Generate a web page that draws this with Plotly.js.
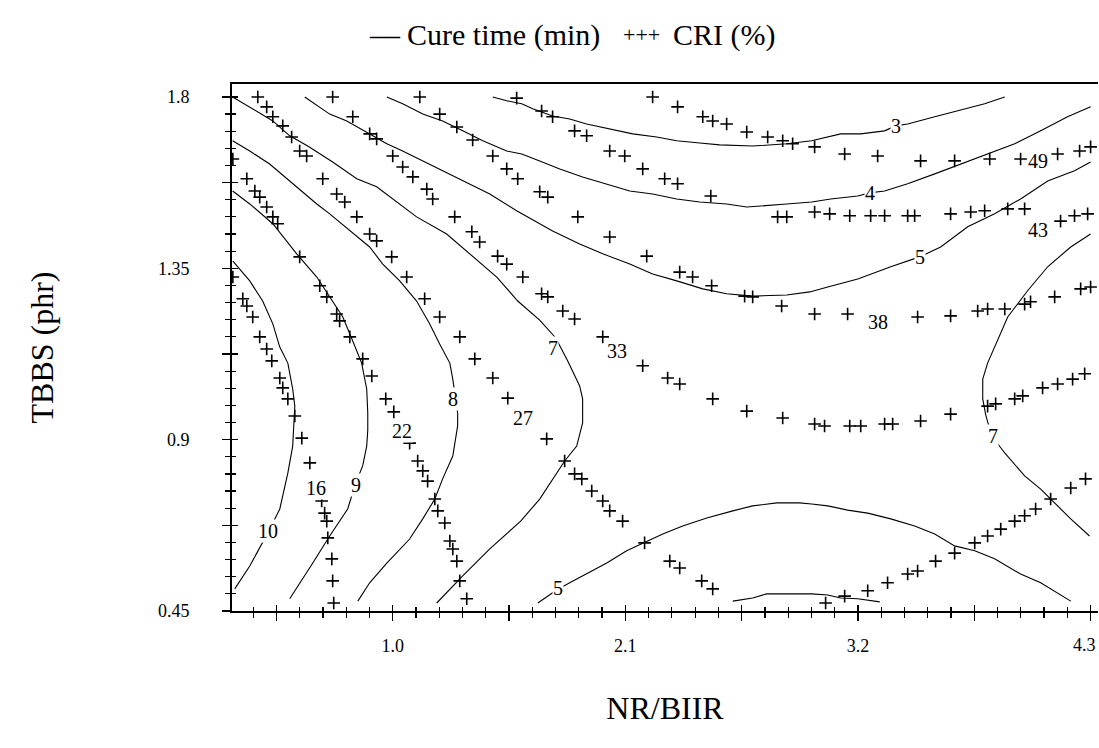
<!DOCTYPE html>
<html>
<head>
<meta charset="utf-8">
<script src="https://cdn.plot.ly/plotly-3.0.1.min.js"></script>
<style>
html,body{margin:0;padding:0;background:#fff;overflow:hidden;}
#chart{width:1099px;height:748px;}
</style>
</head>
<body>
<div id="chart"></div>
<script>
// ---------- Cure time (min) contour lines ----------
const cure3X = [1.473,1.539,1.610,1.662,1.756,1.837,1.917,2.026,2.135,2.248,2.343,2.452,2.546,2.702,2.863,2.981,3.057,3.118,3.213,3.326,3.378,3.435,3.563,3.671,3.799,3.894];
const cure3Y = [1.800,1.790,1.782,1.769,1.750,1.742,1.729,1.716,1.703,1.695,1.685,1.679,1.674,1.671,1.677,1.685,1.695,1.703,1.703,1.711,1.724,1.729,1.748,1.763,1.782,1.800];

const cure4X = [0.972,1.047,1.142,1.236,1.331,1.426,1.539,1.610,1.695,1.790,1.898,2.012,2.121,2.229,2.343,2.452,2.579,2.674,2.768,2.863,2.981,3.071,3.199,3.255,3.326,3.435,3.563,3.686,3.813,3.941,4.064,4.191,4.300];
const cure4Y = [1.800,1.782,1.755,1.737,1.711,1.685,1.658,1.650,1.632,1.611,1.590,1.572,1.553,1.545,1.532,1.524,1.519,1.511,1.514,1.519,1.524,1.532,1.540,1.548,1.553,1.572,1.598,1.624,1.650,1.677,1.711,1.748,1.774];

const cure5UpperX = [0.584,0.702,0.783,0.891,0.972,1.047,1.142,1.236,1.331,1.459,1.586,1.695,1.756,1.884,1.993,2.121,2.229,2.343,2.466,2.579,2.702,2.863,2.972,3.057,3.199,3.355,3.492,3.591,3.719,3.846,3.969,4.097,4.224,4.300];
const cure5UpperY = [1.800,1.755,1.737,1.703,1.677,1.658,1.632,1.606,1.579,1.545,1.501,1.467,1.448,1.414,1.388,1.361,1.335,1.317,1.296,1.283,1.277,1.280,1.288,1.301,1.322,1.354,1.380,1.406,1.459,1.493,1.532,1.579,1.606,1.629];

const cure5LowerX = [1.686,1.775,1.837,1.917,2.012,2.106,2.191,2.277,2.371,2.485,2.608,2.702,2.816,2.924,2.981,3.057,3.151,3.246,3.355,3.468,3.563,3.657,3.752,3.846,3.969,4.064,4.206];
const cure5LowerY = [0.471,0.505,0.524,0.547,0.576,0.608,0.629,0.652,0.673,0.694,0.713,0.726,0.734,0.734,0.731,0.726,0.715,0.707,0.692,0.673,0.652,0.621,0.608,0.587,0.547,0.524,0.476];

const cure4LowerX = [2.608,2.702,2.768,2.863,2.981,3.057,3.118,3.199,3.303];
const cure4LowerY = [0.476,0.484,0.495,0.495,0.495,0.492,0.484,0.482,0.474];

const cure7LeftX = [0.243,0.324,0.433,0.513,0.598,0.716,0.830,0.924,1.047,1.113,1.255,1.364,1.492,1.591,1.695,1.771,1.827,1.884,1.898,1.898,1.870,1.813,1.756,1.695,1.605,1.459,1.331,1.208];
const cure7LeftY = [1.800,1.774,1.737,1.698,1.671,1.629,1.585,1.564,1.511,1.485,1.440,1.388,1.327,1.264,1.214,1.167,1.107,1.041,1.007,0.944,0.883,0.844,0.797,0.744,0.686,0.613,0.542,0.471];

const cure7RightX = [4.300,4.206,4.097,4.002,3.908,3.846,3.813,3.790,3.790,3.804,3.832,3.894,3.988,4.064,4.111,4.206,4.295];
const cure7RightY = [1.440,1.406,1.354,1.291,1.222,1.143,1.101,1.059,1.007,0.965,0.910,0.865,0.805,0.770,0.744,0.692,0.647];

const cure8X = [0.243,0.324,0.418,0.527,0.641,0.702,0.797,0.891,0.953,1.033,1.113,1.175,1.222,1.270,1.284,1.298,1.307,1.307,1.284,1.236,1.199,1.142,1.080,0.972,0.891,0.835];
const cure8Y = [1.685,1.658,1.624,1.572,1.519,1.493,1.448,1.406,1.361,1.317,1.264,1.204,1.151,1.101,1.059,1.007,0.970,0.936,0.857,0.797,0.744,0.692,0.639,0.576,0.524,0.476];

const cure9X = [0.243,0.324,0.433,0.546,0.641,0.702,0.764,0.811,0.853,0.877,0.882,0.882,0.877,0.858,0.825,0.787,0.702,0.622,0.513];
const cure9Y = [1.553,1.519,1.467,1.388,1.327,1.275,1.222,1.159,1.101,1.033,0.970,0.925,0.883,0.831,0.786,0.718,0.647,0.576,0.482];

const cure10X = [0.244,0.324,0.385,0.433,0.466,0.504,0.527,0.537,0.532,0.527,0.504,0.466,0.414,0.385,0.324,0.253];
const cure10Y = [1.369,1.317,1.264,1.204,1.143,1.101,1.033,0.988,0.936,0.883,0.812,0.718,0.660,0.629,0.568,0.508];

// ---------- CRI (%) contour points ----------
const cri16X = [0.244,0.291,0.310,0.338,0.371,0.404,0.428,0.466,0.480,0.504,0.537,0.570,0.608,0.664,0.678,0.688,0.693,0.712,0.716,0.721];
const cri16Y = [1.327,1.270,1.251,1.222,1.170,1.138,1.107,1.062,1.036,1.007,0.962,0.904,0.839,0.739,0.707,0.686,0.642,0.587,0.529,0.471];

const cri22X = [0.244,0.310,0.348,0.371,0.404,0.433,0.456,0.560,0.655,0.688,0.735,0.749,0.797,0.858,0.901,0.967,1.005,1.080,1.118,1.142,1.165,1.199,1.213,1.246,1.270,1.284,1.303,1.317,1.350];
const cri22Y = [1.637,1.585,1.553,1.537,1.511,1.485,1.467,1.380,1.304,1.275,1.230,1.212,1.170,1.112,1.067,1.007,0.973,0.891,0.844,0.818,0.791,0.744,0.713,0.681,0.634,0.613,0.581,0.529,0.482];

const cri27X = [0.362,0.404,0.433,0.480,0.522,0.560,0.593,0.669,0.735,0.773,0.830,0.891,0.924,0.995,1.066,1.151,1.222,1.317,1.388,1.473,1.544,1.728,1.813,1.860,1.894,1.941,1.993,2.026,2.087,2.191,2.310,2.357,2.461,2.513,3.047,3.137,3.246,3.340,3.435,3.482,3.567,3.657,3.752,3.813,3.875,3.941,3.988,4.040,4.111,4.206,4.276];
const cri27Y = [1.800,1.774,1.748,1.724,1.695,1.658,1.645,1.585,1.545,1.524,1.485,1.440,1.422,1.380,1.327,1.270,1.222,1.170,1.112,1.062,1.009,0.902,0.844,0.810,0.797,0.765,0.739,0.713,0.686,0.629,0.581,0.563,0.529,0.508,0.471,0.489,0.503,0.524,0.547,0.555,0.581,0.602,0.629,0.647,0.665,0.686,0.700,0.718,0.744,0.773,0.797];

const cri33X = [0.716,0.811,0.891,0.924,1.000,1.047,1.095,1.161,1.189,1.293,1.374,1.411,1.496,1.539,1.615,1.704,1.733,1.804,1.860,1.993,2.182,2.300,2.357,2.513,2.674,2.844,2.995,3.042,3.161,3.213,3.326,3.364,3.496,3.638,3.813,3.851,3.941,3.979,4.073,4.144,4.215,4.272];
const cri33Y = [1.800,1.748,1.703,1.690,1.645,1.616,1.590,1.558,1.532,1.485,1.446,1.419,1.382,1.361,1.327,1.283,1.275,1.238,1.217,1.170,1.094,1.062,1.046,1.007,0.975,0.957,0.941,0.936,0.936,0.936,0.941,0.941,0.949,0.967,0.988,0.994,1.007,1.015,1.036,1.046,1.059,1.073];

const cri38X = [1.128,1.222,1.303,1.378,1.473,1.539,1.591,1.695,1.733,1.875,2.026,2.201,2.357,2.418,2.508,2.664,2.702,2.839,2.995,3.151,3.482,3.638,3.766,3.813,3.894,3.988,4.016,4.130,4.253,4.300];
const cri38Y = [1.800,1.755,1.721,1.687,1.645,1.611,1.585,1.551,1.537,1.485,1.432,1.382,1.340,1.327,1.304,1.277,1.275,1.251,1.230,1.230,1.222,1.225,1.238,1.243,1.243,1.256,1.262,1.275,1.296,1.301];

const cri43X = [1.586,1.704,1.756,1.860,1.917,2.026,2.097,2.182,2.286,2.347,2.504,2.820,2.863,2.995,3.066,3.161,3.260,3.326,3.435,3.468,3.638,3.733,3.799,3.908,3.988,4.158,4.224,4.286];
const cri43Y = [1.797,1.763,1.748,1.711,1.698,1.658,1.645,1.611,1.585,1.572,1.540,1.485,1.485,1.498,1.493,1.488,1.488,1.488,1.488,1.488,1.493,1.498,1.501,1.506,1.506,1.474,1.488,1.493];

const cri49X = [2.229,2.347,2.466,2.513,2.579,2.674,2.773,2.844,2.891,2.995,3.137,3.293,3.496,3.657,3.823,3.969,4.144,4.248,4.300];
const cri49Y = [1.800,1.774,1.748,1.737,1.729,1.708,1.695,1.685,1.677,1.669,1.650,1.645,1.632,1.632,1.637,1.637,1.650,1.658,1.669];

// ---------- contour labels ----------
const cureLabelText = ['3','4','5','5','7','8','9','10','7'];
const cureLabelX = [3.378,3.255,3.492,1.780,1.756,1.284,0.825,0.409,3.837];
const cureLabelY = [1.724,1.548,1.380,0.510,1.141,1.007,0.781,0.660,0.910];

const criLabelText = ['16','22','27','33','38','43','49'];
const criLabelX = [0.636,1.043,1.615,2.059,3.293,4.050,4.050];
const criLabelY = [0.773,0.923,0.957,1.133,1.209,1.451,1.632];

// ---------- axes ticks ----------
const xTickVals = [0.45,1.0,1.55,2.1,2.65,3.2,3.75,4.3];
const xTickText = ['','1.0','','2.1','','3.2','',''];
const xEdgeTickText = '4.3';   // drawn flush with the right edge so it is not cut
const yTickVals = [0.45,0.675,0.9,1.125,1.35,1.575,1.8];
const yTickText = ['0.45','','0.9','','1.35','','1.8'];

const legendCureMark = '—';
const legendCureText = 'Cure time (min)';
const legendCriMark = '+++';
const legendCriText = 'CRI (%)';
const xTitle = 'NR/BIIR';
const yTitle = 'TBBS (phr)';

// ---------- build traces ----------
const FONT = 'Liberation Serif';
const cureLines = [
  [cure3X,cure3Y],[cure4X,cure4Y],[cure5UpperX,cure5UpperY],[cure5LowerX,cure5LowerY],
  [cure4LowerX,cure4LowerY],[cure7LeftX,cure7LeftY],[cure7RightX,cure7RightY],
  [cure8X,cure8Y],[cure9X,cure9Y],[cure10X,cure10Y]
];
const criSets = [
  [cri16X,cri16Y],[cri22X,cri22Y],[cri27X,cri27Y],[cri33X,cri33Y],
  [cri38X,cri38Y],[cri43X,cri43Y],[cri49X,cri49Y]
];

const traces = [];
cureLines.forEach(function(p){
  traces.push({type:'scatter', mode:'lines', x:p[0], y:p[1],
    line:{color:'#000', width:1.1}, hoverinfo:'skip', showlegend:false});
});
criSets.forEach(function(p){
  traces.push({type:'scatter', mode:'markers', x:p[0], y:p[1],
    marker:{symbol:'cross-thin', size:9, color:'#000', line:{color:'#000', width:1.6}},
    hoverinfo:'skip', showlegend:false});
});
// empty trace on the overlay axes (inner half of the crossing ticks)
traces.push({type:'scatter', mode:'markers', x:[null], y:[null], xaxis:'x2', yaxis:'y2',
  hoverinfo:'skip', showlegend:false});

const annotations = [];
function addLabels(texts, xs, ys){
  for (let i=0;i<texts.length;i++){
    annotations.push({x:xs[i], y:ys[i], xref:'x', yref:'y', text:texts[i], showarrow:false,
      font:{family:FONT, size:20, color:'#000'}, bgcolor:'#fff', borderpad:0,
      xanchor:'center', yanchor:'middle'});
  }
}
addLabels(cureLabelText, cureLabelX, cureLabelY);
addLabels(criLabelText, criLabelX, criLabelY);

function legendText(txt, px, size){
  annotations.push({xref:'paper', yref:'paper', x:(px-232)/866, y:1.093, xanchor:'left', yanchor:'middle',
    text:txt, showarrow:false, font:{family:FONT, size:size, color:'#000'}});
}
legendText(legendCureMark, 367, 30);
legendText(legendCureText, 405, 30);
legendText(legendCriMark, 621, 22);
legendText(legendCriText, 671, 30);

annotations.push({xref:'paper', yref:'paper', x:1, y:-0.0645, xanchor:'right', yanchor:'middle',
  text:xEdgeTickText, showarrow:false, font:{family:FONT, size:18, color:'#000'}});

const layout = {
  width:1099, height:748,
  margin:{l:232, r:1, t:84, b:137, pad:0},
  paper_bgcolor:'#fff', plot_bgcolor:'#fff',
  showlegend:false,
  font:{family:FONT, color:'#000'},
  xaxis:{
    range:[0.24,4.335], tickmode:'array', tickvals:xTickVals, ticktext:xTickText,
    ticks:'outside', ticklen:8, tickwidth:1.5, tickcolor:'#000',
    showline:true, linewidth:2, linecolor:'#000', mirror:true,
    showgrid:false, zeroline:false, tickfont:{family:FONT, size:18, color:'#000'},
    ticklabelstandoff:9,
    minor:{ticks:'outside', tickmode:'linear', tick0:1.0, dtick:0.11, ticklen:5, tickwidth:1.2, tickcolor:'#000', showgrid:false},
    title:{text:xTitle, font:{family:FONT, size:32, color:'#000'}, standoff:42}
  },
  yaxis:{
    range:[0.45,1.834], tickmode:'array', tickvals:yTickVals, ticktext:yTickText,
    ticks:'outside', ticklen:8, tickwidth:1.5, tickcolor:'#000',
    showline:true, linewidth:2, linecolor:'#000', mirror:false,
    showgrid:false, zeroline:false, tickfont:{family:FONT, size:18, color:'#000'},
    ticklabelstandoff:29,
    minor:{ticks:'outside', tickmode:'linear', tick0:0.45, dtick:0.045, ticklen:5, tickwidth:1.2, tickcolor:'#000', showgrid:false},
    title:{text:yTitle, font:{family:FONT, size:32, color:'#000'}, standoff:95}
  },
  xaxis2:{
    overlaying:'x', matches:'x', anchor:'y2', side:'bottom',
    tickmode:'array', tickvals:xTickVals, showticklabels:false,
    ticks:'inside', ticklen:6, tickwidth:1.5, tickcolor:'#000',
    showline:false, showgrid:false, zeroline:false,
    minor:{ticks:'inside', ticklen:4, tickmode:'linear', tick0:1.0, dtick:0.11, tickwidth:1.2, tickcolor:'#000', showgrid:false}
  },
  yaxis2:{
    overlaying:'y', matches:'y', anchor:'x2', side:'left',
    tickmode:'array', tickvals:yTickVals, showticklabels:false,
    ticks:'inside', ticklen:6, tickwidth:1.5, tickcolor:'#000',
    showline:false, showgrid:false, zeroline:false,
    minor:{ticks:'inside', ticklen:4, tickmode:'linear', tick0:0.45, dtick:0.045, tickwidth:1.2, tickcolor:'#000', showgrid:false}
  },
  annotations:annotations
};

Plotly.newPlot('chart', traces, layout, {staticPlot:true, displayModeBar:false});
</script>
</body>
</html>
